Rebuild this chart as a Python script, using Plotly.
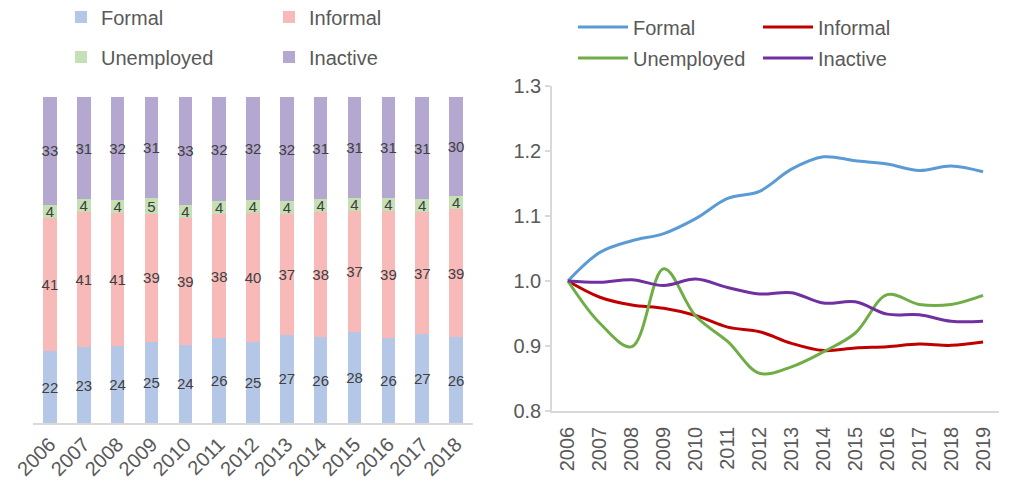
import plotly.graph_objects as go

# Labour-market composition (percent of working-age population)
bar_years = [str(y) for y in range(2006, 2019)]
formal_share = [22, 23, 24, 25, 24, 26, 25, 27, 26, 28, 26, 27, 26]
informal_share = [41, 41, 41, 39, 39, 38, 40, 37, 38, 37, 39, 37, 39]
unemployed_share = [4, 4, 4, 5, 4, 4, 4, 4, 4, 4, 4, 4, 4]
inactive_share = [33, 31, 32, 31, 33, 32, 32, 32, 31, 31, 31, 31, 30]

# Index of each group, 2006 = 1
line_years = [str(y) for y in range(2006, 2020)]
formal_idx = [1.000, 1.044, 1.062, 1.073, 1.096, 1.127, 1.138, 1.172, 1.191,
              1.185, 1.180, 1.170, 1.177, 1.168]
informal_idx = [1.000, 0.975, 0.963, 0.958, 0.947, 0.929, 0.922, 0.904, 0.893,
                0.897, 0.899, 0.903, 0.901, 0.906]
unemployed_idx = [1.000, 0.935, 0.899, 1.019, 0.946, 0.907, 0.858, 0.868, 0.891,
                  0.920, 0.979, 0.964, 0.964, 0.978]
inactive_idx = [1.000, 0.998, 1.002, 0.993, 1.003, 0.990, 0.980, 0.982, 0.966,
                0.968, 0.949, 0.948, 0.938, 0.938]

FONT = "Liberation Sans, Arial, sans-serif"
TXT = "#595959"
AXIS = "#d9d9d9"
W, H = 1009, 486

bar_series = [
    ("Formal", formal_share, "#b4c7e7", "legend"),
    ("Informal", informal_share, "#f8b9b9", "legend"),
    ("Unemployed", unemployed_share, "#c5e0b4", "legend2"),
    ("Inactive", inactive_share, "#b4a7d0", "legend2"),
]
line_series = [
    ("Formal", formal_idx, "#5b9bd5", "legend3"),
    ("Informal", informal_idx, "#c00000", "legend3"),
    ("Unemployed", unemployed_idx, "#70ad47", "legend4"),
    ("Inactive", inactive_idx, "#7030a0", "legend4"),
]

fig = go.Figure()

for name, vals, color, leg in bar_series:
    fig.add_trace(go.Bar(
        x=bar_years, y=vals, name=name, marker=dict(color=color, line=dict(width=0)),
        text=[str(v) for v in vals], textposition="inside", insidetextanchor="middle",
        textangle=0, insidetextfont=dict(family=FONT, size=15, color="#404040"),
        width=0.4, legend=leg, xaxis="x", yaxis="y",
    ))

for name, vals, color, leg in line_series:
    fig.add_trace(go.Scatter(
        x=line_years, y=vals, name=name, mode="lines",
        line=dict(color=color, width=3, shape="spline", smoothing=1),
        legend=leg, xaxis="x2", yaxis="y2",
    ))


def px_x(p):
    return p / W


def px_y(p):
    return 1 - p / H


legend_common = dict(orientation="h", font=dict(family=FONT, size=20, color=TXT),
                     bgcolor="rgba(0,0,0,0)", borderwidth=0, xanchor="left",
                     yanchor="middle", traceorder="normal")

fig.update_layout(
    width=W, height=H,
    margin=dict(l=0, r=0, t=0, b=0, autoexpand=False),
    paper_bgcolor="white", plot_bgcolor="white",
    barmode="stack", barnorm="percent",
    showlegend=True,
    uniformtext=dict(minsize=15, mode="show"),
    font=dict(family=FONT, size=20, color=TXT),
    legend=dict(**legend_common, x=px_x(61), y=px_y(17), entrywidth=163),
    legend2=dict(**legend_common, x=px_x(61), y=px_y(57), entrywidth=163),
    legend3=dict(**legend_common, x=px_x(573), y=px_y(27), entrywidth=120, itemwidth=50),
    legend4=dict(**legend_common, x=px_x(573), y=px_y(58), entrywidth=120, itemwidth=50),
    xaxis=dict(domain=[px_x(33), px_x(473)], range=[-0.5, 12.5], type="category",
               showline=True, linecolor=AXIS, linewidth=1.5, ticks="",
               tickangle=-45, tickfont=dict(family=FONT, size=20, color=TXT),
               showgrid=False, zeroline=False, automargin=False),
    yaxis=dict(domain=[px_y(423), px_y(97)], range=[0, 100], visible=False,
               showgrid=False, zeroline=False, automargin=False),
    xaxis2=dict(domain=[px_x(552), px_x(999)], range=[-0.5, 13.5], type="category",
                anchor="y2", showline=True, linecolor=AXIS, linewidth=1.5, ticks="",
                tickangle=-90, tickfont=dict(family=FONT, size=20, color=TXT),
                ticklabelstandoff=6,
                showgrid=False, zeroline=False, automargin=False),
    yaxis2=dict(domain=[px_y(411), px_y(86)], range=[0.8, 1.3], anchor="x2",
                tickvals=[0.8, 0.9, 1.0, 1.1, 1.2, 1.3],
                ticktext=["0.8", "0.9", "1.0", "1.1", "1.2", "1.3"],
                showline=True, linecolor=AXIS, linewidth=1.5, ticks="outside",
                ticklen=5, tickcolor=AXIS, tickwidth=1.5,
                tickfont=dict(family=FONT, size=20, color=TXT),
                showgrid=False, zeroline=False, automargin=False),
)

fig.write_html("out.html")
